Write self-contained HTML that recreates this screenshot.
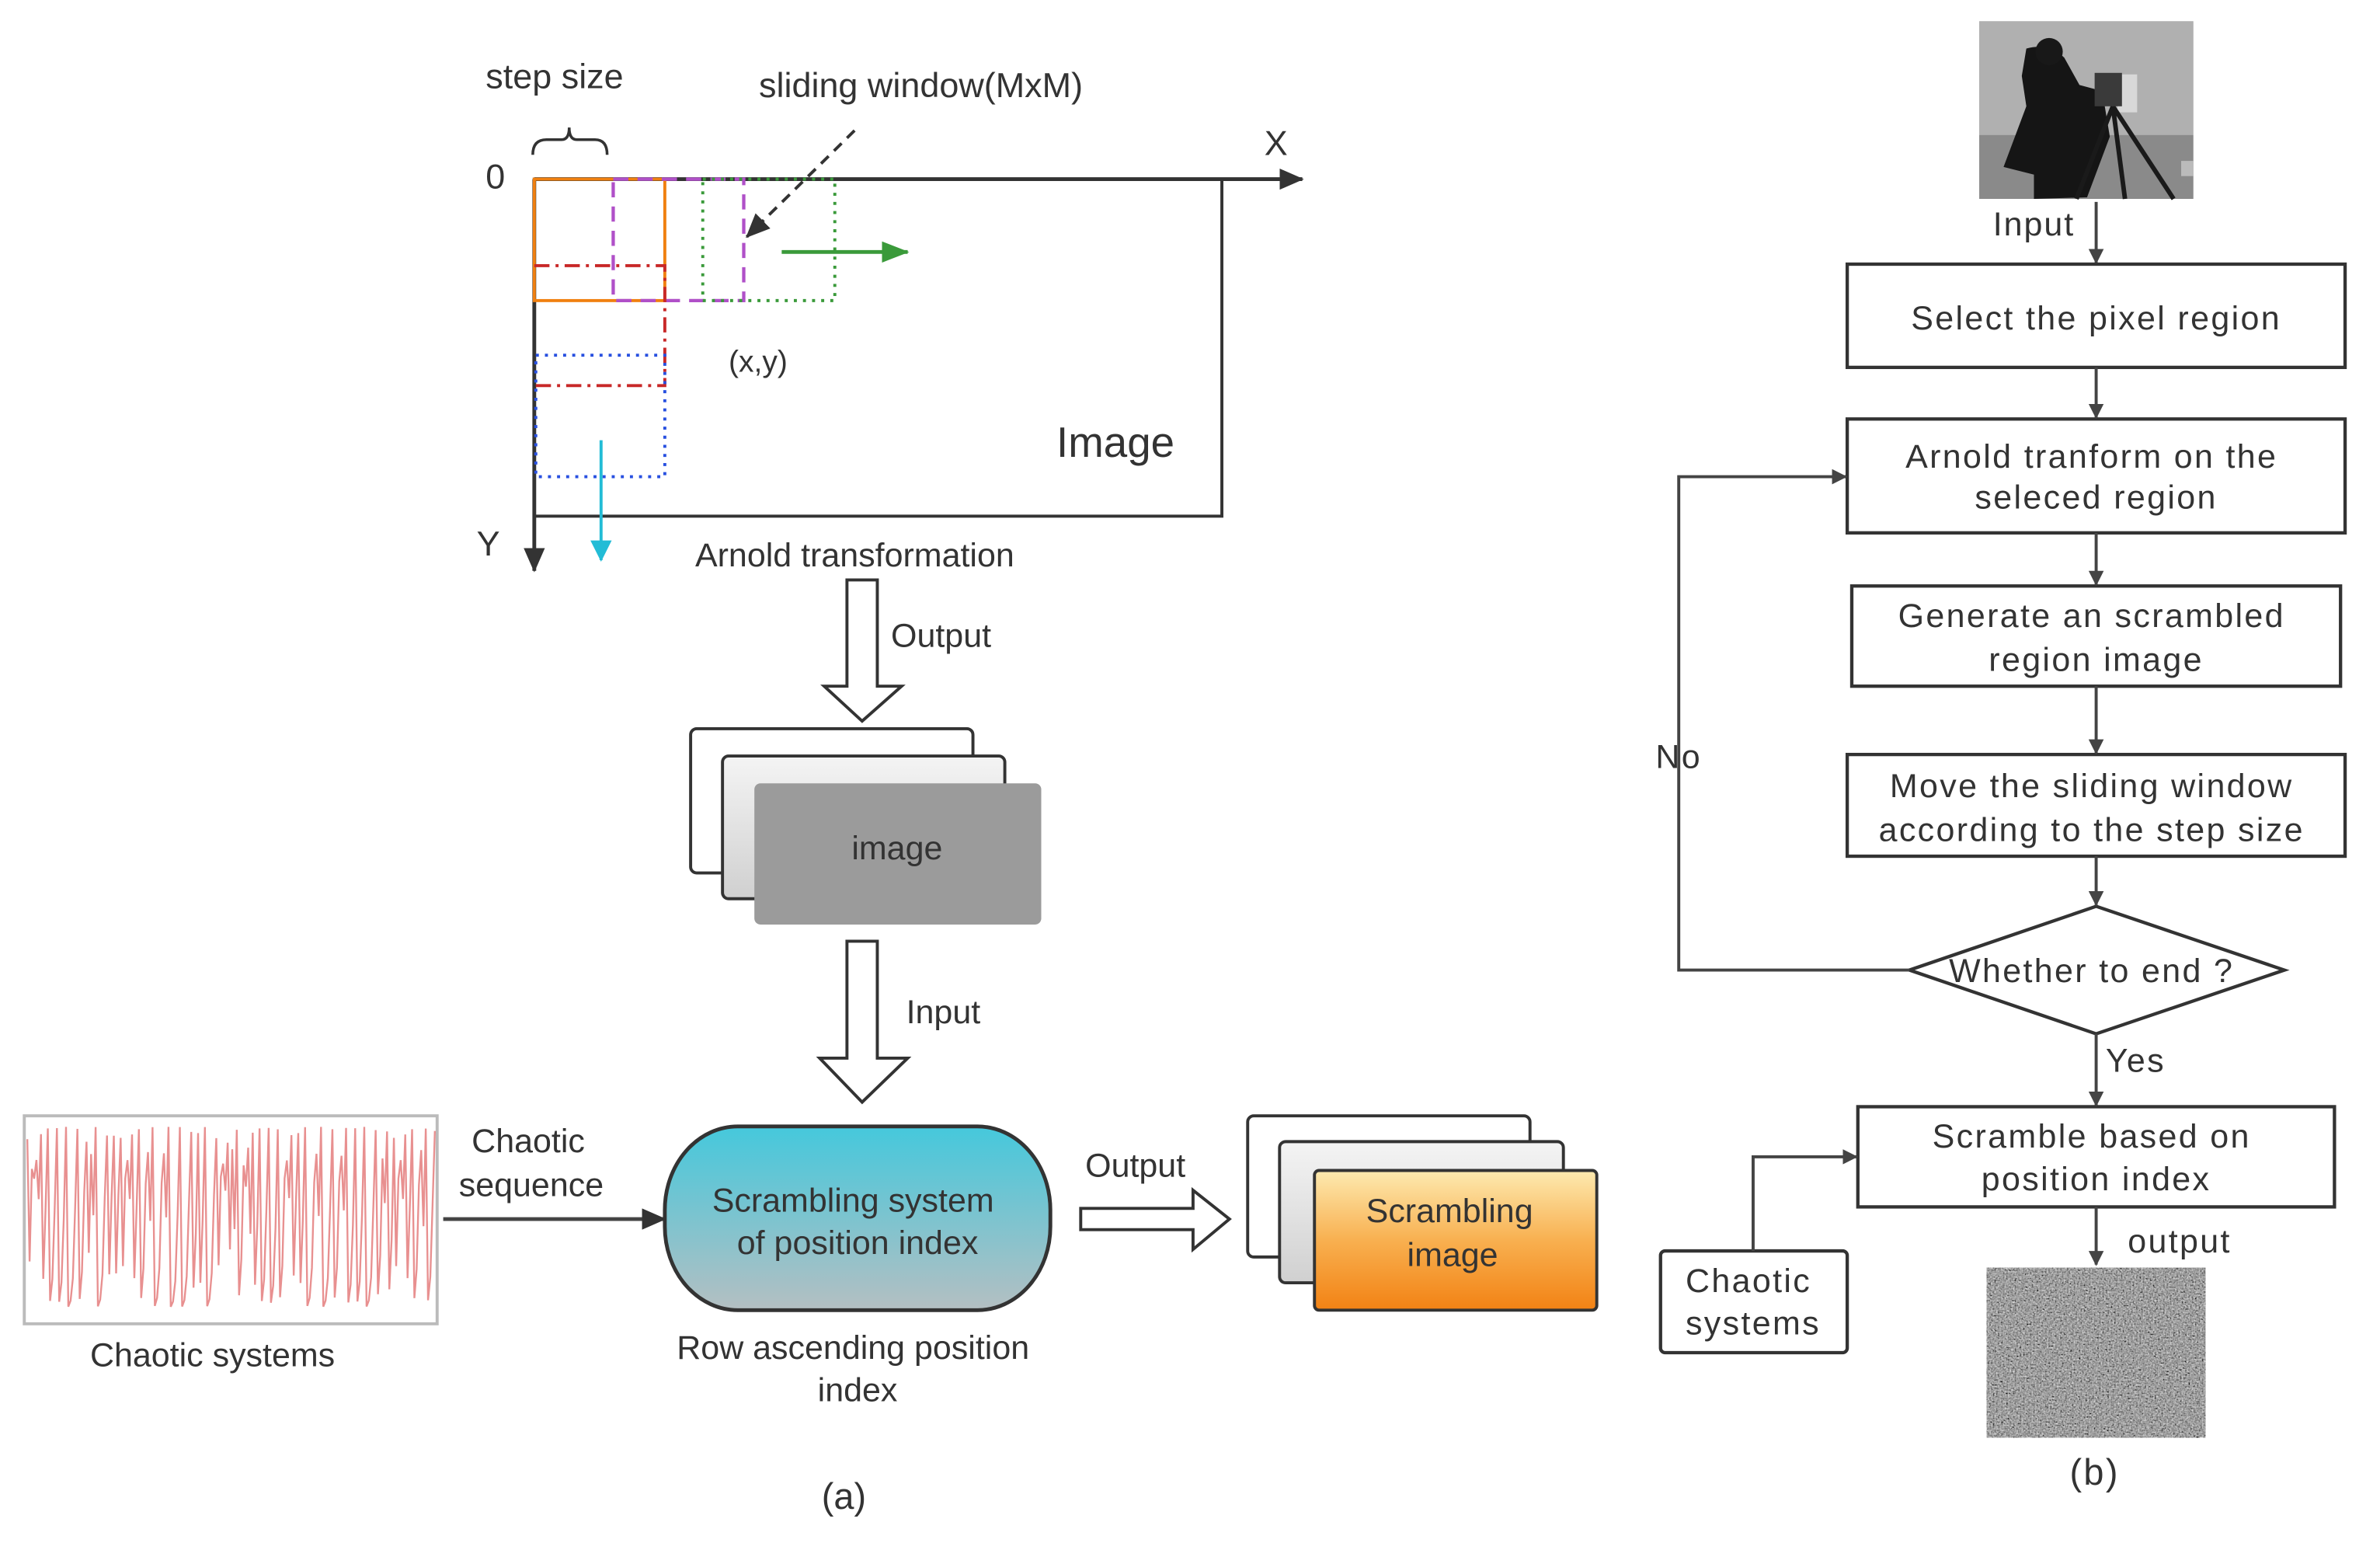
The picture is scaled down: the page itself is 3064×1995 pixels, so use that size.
<!DOCTYPE html>
<html><head><meta charset="utf-8"><style>
html,body{margin:0;padding:0;background:#fff}
svg{display:block}
text{font-family:"Liberation Sans",sans-serif;fill:#333}
</style></head><body>
<svg width="3064" height="1995" viewBox="0 0 1568 1021" preserveAspectRatio="none" xmlns="http://www.w3.org/2000/svg">
<defs>
<marker id="ah" markerWidth="10" markerHeight="10" refX="9" refY="5" orient="auto" markerUnits="userSpaceOnUse"><path d="M0,0 L10,5 L0,10 Z" fill="#444"/></marker>
<marker id="ahB" markerWidth="16" markerHeight="14" refX="15" refY="7" orient="auto" markerUnits="userSpaceOnUse"><path d="M0,0 L16,7 L0,14 Z" fill="#333"/></marker>
<marker id="ahG" markerWidth="18" markerHeight="14" refX="17" refY="7" orient="auto" markerUnits="userSpaceOnUse"><path d="M0,0 L18,7 L0,14 Z" fill="#3a9a3a"/></marker>
<marker id="ahC" markerWidth="14" markerHeight="18" refX="13" refY="7" orient="auto" markerUnits="userSpaceOnUse"><path d="M0,0 L14,7 L0,14 Z" fill="#22bcd6"/></marker>
<linearGradient id="teal" x1="0" y1="0" x2="0" y2="1"><stop offset="0" stop-color="#45c8dc"/><stop offset="1" stop-color="#b4bfc2"/></linearGradient>
<linearGradient id="orng" x1="0" y1="0" x2="0" y2="1"><stop offset="0" stop-color="#fdeab0"/><stop offset="0.5" stop-color="#f8b050"/><stop offset="1" stop-color="#f28214"/></linearGradient>
<linearGradient id="lg" x1="0" y1="0" x2="0" y2="1"><stop offset="0" stop-color="#f4f4f4"/><stop offset="1" stop-color="#d0d0d0"/></linearGradient>
<filter id="noise" x="0" y="0" width="100%" height="100%"><feTurbulence type="fractalNoise" baseFrequency="0.9" numOctaves="2" seed="3"/><feColorMatrix type="matrix" values="0.33 0.33 0.33 0 0  0.33 0.33 0.33 0 0  0.33 0.33 0.33 0 0  0 0 0 0 1"/><feComponentTransfer><feFuncR type="linear" slope="1.6" intercept="-0.45"/><feFuncG type="linear" slope="1.6" intercept="-0.45"/><feFuncB type="linear" slope="1.6" intercept="-0.45"/></feComponentTransfer></filter>
</defs>

<text x="320" y="58" font-size="23">step size</text>
<path d="M351,102 Q351,92 360,92 L370,92 Q375,92 375,84 Q375,92 380,92 L392,92 Q400,92 400,102" fill="none" stroke="#333" stroke-width="1.8"/>
<text x="500" y="64" font-size="23">sliding window(MxM)</text>
<text x="320" y="124" font-size="23">0</text>
<text x="833" y="102" font-size="23">X</text>
<text x="314" y="366" font-size="23">Y</text>

<rect x="352" y="118" width="453" height="222" fill="none" stroke="#333" stroke-width="2"/>
<line x1="352" y1="118" x2="858" y2="118" stroke="#333" stroke-width="2.5" marker-end="url(#ahB)"/>
<line x1="352" y1="118" x2="352" y2="376" stroke="#333" stroke-width="2.5" marker-end="url(#ahB)"/>

<rect x="352" y="118" width="86" height="80" fill="none" stroke="#f08010" stroke-width="2"/>
<rect x="404" y="118" width="86" height="80" fill="none" stroke="#b050c8" stroke-width="2.2" stroke-dasharray="10,6"/>
<rect x="463" y="118" width="87" height="80" fill="none" stroke="#3a9a3a" stroke-width="2" stroke-dasharray="2,4"/>
<path d="M352,175 L438,175 L438,254 L352,254" fill="none" stroke="#c82828" stroke-width="2" stroke-dasharray="10,4,2,4"/>
<rect x="353" y="234" width="85" height="80" fill="none" stroke="#2850e0" stroke-width="2" stroke-dasharray="2,4"/>
<line x1="515" y1="166" x2="598" y2="166" stroke="#3a9a3a" stroke-width="2.5" marker-end="url(#ahG)"/>
<line x1="396" y1="290" x2="396" y2="369" stroke="#22bcd6" stroke-width="2" marker-end="url(#ahC)"/>
<line x1="563" y1="86" x2="492" y2="156" stroke="#333" stroke-width="2" stroke-dasharray="7,5" marker-end="url(#ahB)"/>
<text x="480" y="245" font-size="20">(x,y)</text>
<text x="696" y="301" font-size="28">Image</text>
<text x="458" y="373" font-size="22">Arnold transformation</text>

<path d="M558,382 L578,382 L578,452 L594,452 L568,475 L543,452 L558,452 Z" fill="#fff" stroke="#333" stroke-width="2"/>
<text x="587" y="426" font-size="22">Output</text>

<rect x="455" y="480" width="186" height="95" rx="4" fill="#fff" stroke="#333" stroke-width="2"/>
<rect x="476" y="498" width="186" height="94" rx="4" fill="url(#lg)" stroke="#333" stroke-width="2"/>
<rect x="497" y="516" width="189" height="93" rx="4" fill="#9b9b9b"/>
<text x="591" y="566" font-size="22" text-anchor="middle">image</text>

<path d="M558,620 L578,620 L578,697 L598,697 L568,726 L540,697 L558,697 Z" fill="#fff" stroke="#333" stroke-width="2"/>
<text x="597" y="674" font-size="22">Input</text>

<rect x="16" y="735" width="272" height="137" fill="#fff" stroke="#bbb" stroke-width="2"/>
<polyline id="sig" fill="none" stroke="#e89090" stroke-width="1.2" points=""/>
<text x="140" y="900" font-size="22" text-anchor="middle">Chaotic systems</text>
<text x="348" y="759" font-size="22" text-anchor="middle">Chaotic</text>
<text x="350" y="788" font-size="22" text-anchor="middle">sequence</text>
<line x1="292" y1="803" x2="438" y2="803" stroke="#444" stroke-width="2.5" marker-end="url(#ahB)"/>

<rect x="438" y="742" width="254" height="121" rx="48" ry="55" fill="url(#teal)" stroke="#333" stroke-width="2.5"/>
<text x="562" y="798" font-size="22" text-anchor="middle">Scrambling system</text>
<text x="565" y="826" font-size="22" text-anchor="middle">of position index</text>
<text x="562" y="895" font-size="22" text-anchor="middle">Row ascending position</text>
<text x="565" y="923" font-size="22" text-anchor="middle">index</text>

<text x="748" y="775" font-size="22" text-anchor="middle">Output</text>
<path d="M712,796 L786,796 L786,784 L810,803 L786,823 L786,810 L712,810 Z" fill="#fff" stroke="#333" stroke-width="2"/>

<rect x="822" y="735" width="186" height="93" rx="4" fill="#fff" stroke="#333" stroke-width="2"/>
<rect x="843" y="752" width="187" height="93" rx="4" fill="url(#lg)" stroke="#333" stroke-width="2"/>
<rect x="866" y="771" width="186" height="92" rx="3" fill="url(#orng)" stroke="#333" stroke-width="2"/>
<text x="955" y="805" font-size="22" text-anchor="middle">Scrambling</text>
<text x="957" y="834" font-size="22" text-anchor="middle">image</text>

<text x="556" y="994" font-size="24" text-anchor="middle">(a)</text>

<g>
<rect x="1304" y="14" width="141" height="117" fill="#9a9a9a"/>
<rect x="1304" y="14" width="141" height="75" fill="#b0b0b0"/>
<rect x="1304" y="89" width="141" height="42" fill="#8a8a8a"/>
<rect x="1437" y="106" width="8" height="10" fill="#bbb"/>
<rect x="1395" y="49" width="13" height="25" fill="#d8d8d8"/>
<path d="M1335,32 Q1350,28 1360,38 L1370,56 L1385,60 L1390,90 L1375,130 L1340,131 L1340,115 L1320,110 L1335,70 L1332,50 Z" fill="#151515"/>
<circle cx="1350" cy="34" r="9" fill="#181818"/>
<path d="M1392,70 L1368,131 M1392,70 L1400,131 M1392,70 L1432,131" stroke="#1a1a1a" stroke-width="3" fill="none"/>
<rect x="1380" y="48" width="18" height="22" fill="#3a3a3a"/>
</g>
<text x="1340" y="155" font-size="22" text-anchor="middle" letter-spacing="1">Input</text>
<line x1="1381" y1="133" x2="1381" y2="173" stroke="#444" stroke-width="2" marker-end="url(#ah)"/>

<g stroke="#333" stroke-width="2.2" fill="#fff">
<rect x="1217" y="174" width="328" height="68"/>
<rect x="1217" y="276" width="328" height="75"/>
<rect x="1220" y="386" width="322" height="66"/>
<rect x="1217" y="497" width="328" height="67"/>
<path d="M1258,639 L1381,597 L1505,639 L1381,681 Z"/>
<rect x="1224" y="729" width="314" height="66"/>
<rect x="1094" y="824" width="123" height="67" rx="3"/>
</g>
<g font-size="22" text-anchor="middle" letter-spacing="1.2">
<text x="1381" y="217">Select the pixel region</text>
<text x="1378" y="308">Arnold tranform on the</text>
<text x="1381" y="335">seleced region</text>
<text x="1378" y="413">Generate an scrambled</text>
<text x="1381" y="442">region image</text>
<text x="1378" y="525">Move the sliding window</text>
<text x="1378" y="554">according to the step size</text>
<text x="1378" y="647">Whether to end ?</text>
<text x="1378" y="756">Scramble based on</text>
<text x="1381" y="784">position index</text>
<text x="1152" y="851">Chaotic</text>
<text x="1155" y="879">systems</text>
<text x="1106" y="506">No</text>
<text x="1407" y="706">Yes</text>
<text x="1436" y="825">output</text>
<text x="1380" y="978" font-size="24">(b)</text>
</g>
<g stroke="#444" stroke-width="2" fill="none">
<line x1="1381" y1="242" x2="1381" y2="275" marker-end="url(#ah)"/>
<line x1="1381" y1="351" x2="1381" y2="385" marker-end="url(#ah)"/>
<line x1="1381" y1="452" x2="1381" y2="496" marker-end="url(#ah)"/>
<line x1="1381" y1="564" x2="1381" y2="596" marker-end="url(#ah)"/>
<line x1="1381" y1="681" x2="1381" y2="728" marker-end="url(#ah)"/>
<line x1="1381" y1="795" x2="1381" y2="833" marker-end="url(#ah)"/>
<polyline points="1258,639 1106,639 1106,314 1216,314" marker-end="url(#ah)"/>
<polyline points="1155,824 1155,762 1223,762" marker-end="url(#ah)"/>
</g>
<rect x="1309" y="835" width="144" height="112" fill="#666" filter="url(#noise)"/>
</svg>
<script>
(function(){
var s=0.37,pts=[],x=18;
for(var i=0;i<180;i++){
  s=3.99*s*(1-s);
  var y=862-s*120;
  pts.push((x+i*1.5).toFixed(1)+","+y.toFixed(1));
}
document.getElementById('sig').setAttribute('points',pts.join(' '));
})();
</script>
</body></html>
